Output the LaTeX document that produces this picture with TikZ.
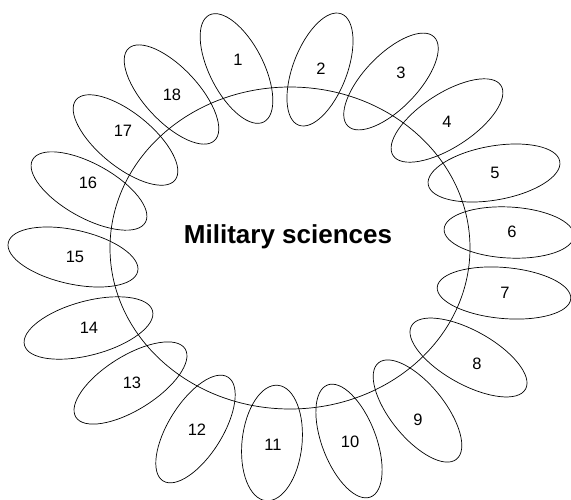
\documentclass[tikz,border=0pt]{standalone}
\usepackage{fontspec}
\setmainfont{Liberation Sans}
\begin{document}
\begin{tikzpicture}[x=1pt,y=-1pt,
  petal/.style={draw=black,line width=0.7pt},
  numlabel/.style={inner sep=0pt,font=\fontsize{16.5}{18}\selectfont},
  titlelabel/.style={inner sep=0pt,font=\fontsize{26}{30}\selectfont\bfseries}]
\useasboundingbox (0,0) rectangle (571,499);
% central ellipse
\coordinate (ctr) at (290,248);
\draw[petal] (ctr) ellipse [x radius=180, y radius=161];
% petals: x, y, a, b, angle
\foreach \px/\py/\pa/\pb/\ang in {
  236.5/68.5/60/27/117,
  320/69.5/59.6/27/69,
  391/81.5/62/27/46,
  447/120.5/64.3/27/33,
  494/173/66.8/27/10,
  509/232.5/65/25.5/-3,
  504/293/67/25.5/-5,
  468.5/357.5/65.2/27/-29,
  417.5/411/62/27/-51,
  349/441/60/27/-69,
  272/443/58/30/84,
  195.5/429/61.2/27/58,
  130.5/383/64.4/27/32,
  88.5/328/66.3/27/15,
  73/257/66.3/27/-12.5,
  89/191/64.5/27/-29,
  125.5/140/63.7/27/-39,
  171.5/94.5/63/27/-47}
{
  \draw[petal,rotate around={\ang:(\px,\py)}] (\px,\py) ellipse [x radius=\pa, y radius=\pb];
}
% labels
\node[numlabel] (l1) at (238,60) {1};
\node[numlabel] (l2) at (321,69) {2};
\node[numlabel] (l3) at (401,73) {3};
\node[numlabel] (l4) at (447,122) {4};
\node[numlabel] (l5) at (495,173) {5};
\node[numlabel] (l6) at (512,232) {6};
\node[numlabel] (l7) at (505,293) {7};
\node[numlabel] (l8) at (477,364) {8};
\node[numlabel] (l9) at (418,420) {9};
\node[numlabel] (l10) at (350,442) {10};
\node[numlabel] (l11) at (273,445) {11};
\node[numlabel] (l12) at (197,430) {12};
\node[numlabel] (l13) at (132,383) {13};
\node[numlabel] (l14) at (89,328) {14};
\node[numlabel] (l15) at (75,257) {15};
\node[numlabel] (l16) at (88,183) {16};
\node[numlabel] (l17) at (123,131) {17};
\node[numlabel] (l18) at (172,95) {18};
\node[titlelabel] (title) at (288,237) {Military sciences};
\end{tikzpicture}
\end{document}
